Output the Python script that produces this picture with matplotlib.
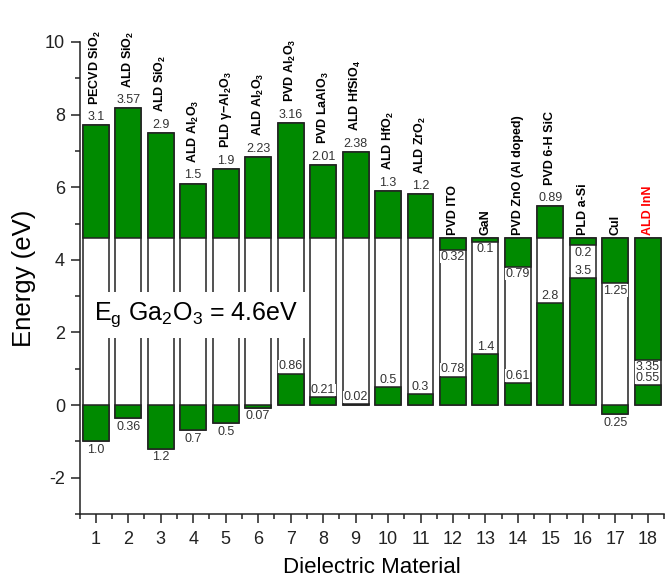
import matplotlib
matplotlib.use("Agg")
import matplotlib.pyplot as plt
from matplotlib.ticker import MultipleLocator

plt.rcParams["font.family"] = ["Liberation Sans", "DejaVu Sans"]
plt.rcParams["mathtext.default"] = "regular"
plt.rcParams["axes.unicode_minus"] = False

EG = 4.6  # Ga2O3 band gap (eV)

materials = [
    "PECVD SiO$_2$", "ALD SiO$_2$", "ALD SiO$_2$", "ALD Al$_2$O$_3$",
    "PLD γ−Al$_2$O$_3$", "ALD Al$_2$O$_3$", "PVD Al$_2$O$_3$", "PVD LaAlO$_3$",
    "ALD HfSiO$_4$", "ALD HfO$_2$", "ALD ZrO$_2$", "PVD ITO", "GaN",
    "PVD ZnO (Al doped)", "PVD 6-H SiC", "PLD a-Si", "CuI", "ALD InN",
]
# conduction band offset: >0 above the Ga2O3 CB, <0 below it
cbo = [3.1, 3.57, 2.9, 1.5, 1.9, 2.23, 3.16, 2.01, 2.38, 1.3, 1.2,
       -0.32, -0.1, -0.79, 0.89, -0.2, -1.25, -3.35]
# valence band offset: >0 below the Ga2O3 VB, <0 above it
vbo = [1.0, 0.36, 1.2, 0.7, 0.5, 0.07, -0.86, -0.21, -0.02, -0.5, -0.3,
       -0.78, -1.4, -0.61, -2.8, -3.5, 0.25, -0.55]
name_colors = ["black"] * 17 + ["red"]

GREEN = "#008a00"
EDGE = "#222222"
TXT = "#333333"


def fmt(v):
    s = f"{abs(v):g}"
    return s if "." in s else s + ".0"


fig = plt.figure(figsize=(6.66, 5.83), dpi=100)
ax = fig.add_axes([0.1194, 0.1184, 0.8777, 0.8096])

x = list(range(1, len(materials) + 1))
w = 0.8
for xi, c, v, name, nc in zip(x, cbo, vbo, materials, name_colors):
    top = max(EG, EG + c)
    bot = min(0.0, -v)
    ax.bar(xi, top - bot, bottom=bot, width=w, facecolor="white",
           edgecolor=EDGE, lw=1.1, zorder=2)
    ax.bar(xi, c, bottom=EG, width=w, facecolor=GREEN, edgecolor=EDGE,
           lw=1.1, zorder=3)
    ax.bar(xi, -v, bottom=0, width=w, facecolor=GREEN, edgecolor=EDGE,
           lw=1.1, zorder=3)

    # conduction band offset label
    if c > 0:
        ax.annotate(fmt(c), (xi, EG + c), xytext=(0, 1.5),
                    textcoords="offset points", ha="center", va="bottom",
                    fontsize=9, color=TXT)
        name_off = 15
    else:
        ax.annotate(fmt(c), (xi, EG + c), xytext=(0, -1),
                    textcoords="offset points", ha="center", va="top",
                    fontsize=9, color=TXT, zorder=4,
                    bbox=dict(fc="white", ec="none", pad=0.3))
        name_off = 2
    # valence band offset label
    if v > 0:
        ax.annotate(fmt(v), (xi, -v), xytext=(0, -2),
                    textcoords="offset points", ha="center", va="top",
                    fontsize=9, color=TXT)
    else:
        ax.annotate(fmt(v), (xi, -v), xytext=(0, 1),
                    textcoords="offset points", ha="center", va="bottom",
                    fontsize=9, color=TXT, zorder=4,
                    bbox=dict(fc="white", ec="none", pad=0.3))
    ax.annotate(name, (xi, top), xytext=(0, name_off),
                textcoords="offset points", ha="center", va="bottom",
                rotation=90, fontsize=9, fontweight="bold", color=nc,
                annotation_clip=False)

ax.text(4.08, 2.48, "E$_g$ Ga$_2$O$_3$ = 4.6eV", fontsize=18, ha="center",
        va="center", zorder=6,
        bbox=dict(boxstyle="square,pad=0.35", fc="white", ec="none"))

ax.set_xlim(0.5, 18.5)
ax.set_ylim(-3, 10)
ax.xaxis.set_major_locator(MultipleLocator(1))
ax.xaxis.set_minor_locator(MultipleLocator(0.5))
ax.yaxis.set_major_locator(MultipleLocator(2))
ax.yaxis.set_minor_locator(MultipleLocator(1))
ax.tick_params(which="both", direction="out", width=1.1, colors="#222222")
ax.tick_params(which="major", length=6.5, labelsize=13)
ax.tick_params(which="minor", length=3.5)
ax.tick_params(axis="x", which="major", pad=6)
ax.tick_params(axis="y", which="major", pad=4)
for s in ("top", "right"):
    ax.spines[s].set_visible(False)
for s in ("left", "bottom"):
    ax.spines[s].set_linewidth(1.1)
    ax.spines[s].set_color("#222222")

ax.set_xlabel("Dielectric Material", fontsize=16, labelpad=6)
ax.set_ylabel("Energy (eV)", fontsize=18.5, labelpad=6)

fig.savefig("out.png", dpi=100)
